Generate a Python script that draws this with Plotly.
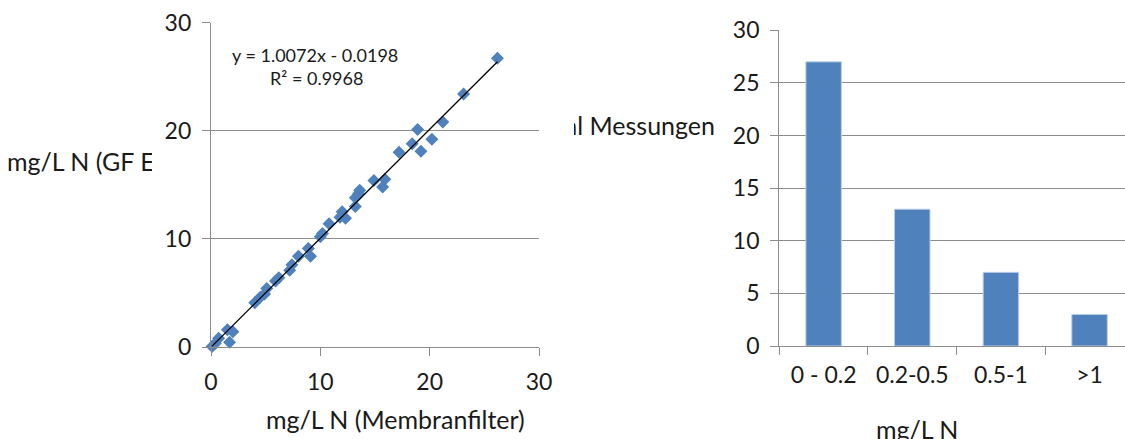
import plotly.graph_objects as go

# Paired measurements: membrane filter vs. GF filter (mg/L N)
membran_x = [0.1, 0.4, 0.7, 1.5, 2.0, 1.7,
             4.0, 4.5, 4.9, 5.1, 5.9, 6.2, 7.2, 7.4, 8.0, 8.9, 9.1,
             10.0, 10.2, 10.8, 11.8, 12.0, 12.3, 13.2, 13.2, 13.5, 13.6,
             14.9, 15.9, 15.7, 17.2, 18.4, 18.9, 19.2, 20.2, 21.2, 23.1, 26.2]
gf_y = [0.05, 0.35, 0.8, 1.6, 1.4, 0.45,
        4.1, 4.6, 4.9, 5.4, 6.1, 6.4, 7.1, 7.6, 8.4, 9.1, 8.4,
        10.2, 10.5, 11.4, 12.0, 12.5, 11.9, 13.0, 13.8, 14.2, 14.5,
        15.4, 15.5, 14.8, 18.0, 18.8, 20.1, 18.1, 19.2, 20.8, 23.4, 26.7]

# Linear regression shown on the chart
slope = 1.0072
intercept = -0.0198
r_squared = 0.9968

# Histogram of differences
diff_classes = ["0 - 0.2", "0.2-0.5", "0.5-1", ">1"]
diff_counts = [27, 13, 7, 3]

scatter_ticks = [0, 10, 20, 30]
bar_ticks = [0, 5, 10, 15, 20, 25, 30]

FONT = "Lato"
TXT = "#1a1a1a"
GRID = "#8c8c8c"
BLUE = "#4F81BD"
TICK_SIZE = 23
TITLE_SIZE = 25
EQ_SIZE = 18

W, H = 1125, 439

fig = go.Figure()

fig.add_trace(go.Scatter(
    x=membran_x, y=gf_y, mode="markers",
    marker=dict(symbol="diamond", size=10, color=BLUE),
    xaxis="x", yaxis="y", showlegend=False, cliponaxis=False,
))

x_fit = [min(membran_x), max(membran_x)]
y_fit = [slope * v + intercept for v in x_fit]
fig.add_trace(go.Scatter(
    x=x_fit, y=y_fit, mode="lines",
    line=dict(color="black", width=1.3),
    xaxis="x", yaxis="y", showlegend=False,
))

fig.add_trace(go.Bar(
    x=diff_classes, y=diff_counts, width=0.4,
    marker=dict(color=BLUE, line=dict(color="#b9cde5", width=1)),
    xaxis="x2", yaxis="y2", showlegend=False,
))

# Axis titles drawn as clipped text inside narrow helper plot areas
fig.add_trace(go.Scatter(
    x=[7], y=[H - 165], mode="text", text=["mg/L N (GF Eluat)"],
    textposition="middle right", cliponaxis=True,
    textfont=dict(family=FONT, size=TITLE_SIZE, color=TXT),
    xaxis="x3", yaxis="y3", showlegend=False, hoverinfo="skip",
))
fig.add_trace(go.Scatter(
    x=[715], y=[H - 129], mode="text", text=["Anzahl Messungen"],
    textposition="middle left", cliponaxis=True,
    textfont=dict(family=FONT, size=TITLE_SIZE, color=TXT),
    xaxis="x4", yaxis="y4", showlegend=False, hoverinfo="skip",
))

axis_common = dict(
    showline=True, linecolor=GRID, linewidth=1.3,
    ticks="outside", tickcolor=GRID, ticklen=8, tickwidth=1.3,
    tickfont=dict(family=FONT, size=TICK_SIZE, color=TXT),
    zeroline=False, automargin=False,
)

fig.update_layout(
    width=W, height=H,
    margin=dict(l=0, r=0, t=0, b=0, autoexpand=False),
    paper_bgcolor="white", plot_bgcolor="white",
    font=dict(family=FONT, color=TXT),
    xaxis=dict(domain=[211 / W, 539 / W], range=[0, 30], tickvals=scatter_ticks,
               showgrid=False, anchor="y", ticklabelstandoff=6, **axis_common),
    yaxis=dict(domain=[(H - 347) / H, (H - 22.5) / H], range=[0, 30], tickvals=scatter_ticks,
               showgrid=True, gridcolor=GRID, gridwidth=1.3, anchor="x",
               ticklabelstandoff=6, **axis_common),
    xaxis2=dict(domain=[779.3 / W, 1.0], range=[-0.5, 3.4], type="category",
                tickson="boundaries", showgrid=False, anchor="y2",
                ticklabelstandoff=8, **axis_common),
    yaxis2=dict(domain=[(H - 346) / H, (H - 30.3) / H], range=[0, 30], tickvals=bar_ticks,
                showgrid=True, gridcolor=GRID, gridwidth=1.3, anchor="x2",
                ticklabelstandoff=6, **axis_common),
    xaxis3=dict(domain=[0, 152 / W], range=[0, 152], visible=False, anchor="y3", automargin=False),
    yaxis3=dict(domain=[0, 1], range=[0, H], visible=False, anchor="x3", automargin=False),
    xaxis4=dict(domain=[574 / W, 740 / W], range=[574, 740], visible=False, anchor="y4", automargin=False),
    yaxis4=dict(domain=[0, 1], range=[0, H], visible=False, anchor="x4", automargin=False),
    annotations=[
        dict(text=f"y = {slope:.4f}x - {abs(intercept):.4f}", xref="paper", yref="paper",
             x=315 / W, y=(H - 55) / H, xanchor="center", yanchor="middle", showarrow=False,
             font=dict(family=FONT, size=EQ_SIZE, color=TXT)),
        dict(text=f"R² = {r_squared:.4f}", xref="paper", yref="paper",
             x=316 / W, y=(H - 78) / H, xanchor="center", yanchor="middle", showarrow=False,
             font=dict(family=FONT, size=EQ_SIZE, color=TXT)),
        dict(text="mg/L N (Membranfilter)", xref="paper", yref="paper",
             x=395 / W, y=(H - 402) / H, xanchor="center", yanchor="top", showarrow=False,
             font=dict(family=FONT, size=TITLE_SIZE, color=TXT)),
        dict(text="mg/L N", xref="paper", yref="paper",
             x=917 / W, y=(H - 412) / H, xanchor="center", yanchor="top", showarrow=False,
             font=dict(family=FONT, size=TITLE_SIZE, color=TXT)),
    ],
)

fig.write_html("out.html")
